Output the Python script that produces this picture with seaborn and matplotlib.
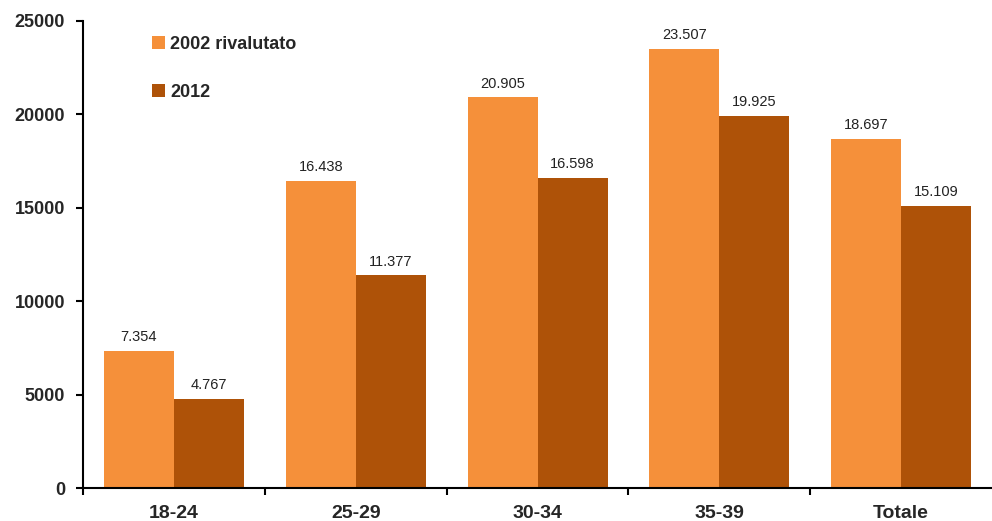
import numpy as np
import pandas as pd
from matplotlib import pyplot as plt
import seaborn as sns

categories = ['18-24', '25-29', '30-34', '35-39', 'Totale']
series_names = ['2002 rivalutato', '2012']
values_2002 = [7354, 16438, 20905, 23507, 18697]
values_2012 = [4767, 11377, 16598, 19925, 15109]
yticks = [0, 5000, 10000, 15000, 20000, 25000]

sns.set_style('white')
plt.rcParams['font.family'] = ['Liberation Sans', 'DejaVu Sans']

df = pd.DataFrame({
    'cat': categories * 2,
    'serie': [series_names[0]] * 5 + [series_names[1]] * 5,
    'val': values_2002 + values_2012,
})

fig = plt.figure(figsize=(9.92, 5.21), dpi=100)
ax = fig.add_axes([0.0837, 0.0633, 0.9163, 0.8964])
palette = {series_names[0]: '#F5903A', series_names[1]: '#AE5208'}
sns.barplot(data=df, x='cat', y='val', hue='serie', palette=palette,
            width=0.77, saturation=1, ax=ax, errorbar=None, linewidth=0)

for cont in ax.containers:
    labels = ['{:,}'.format(int(v)).replace(',', '.') for v in cont.datavalues]
    ax.bar_label(cont, labels=labels, padding=5, fontsize=10.5, color='#222222')

ax.set_ylim(0, 25000)
ax.set_xlim(-0.5, 4.5)
ax.set_yticks(yticks)
ax.set_yticklabels([str(t) for t in yticks], fontsize=13, fontweight='bold')
ax.set_xticks(range(len(categories)))
ax.set_xticklabels(categories, fontsize=14, fontweight='bold')
ax.set_xticks(np.arange(-0.5, 4.5, 1), minor=True)
ax.tick_params(axis='x', which='major', bottom=False, length=0, pad=12)
ax.tick_params(axis='x', which='minor', bottom=True, length=5, width=1.5,
               color='black', direction='out')
ax.tick_params(axis='y', left=True, length=5, width=1.5, color='black',
               direction='out', pad=8)
ax.set_xlabel('')
ax.set_ylabel('')
for s in ['top', 'right']:
    ax.spines[s].set_visible(False)
for s in ['left', 'bottom']:
    ax.spines[s].set_color('black')
    ax.spines[s].set_linewidth(1.5)

ax.legend(loc='upper left', bbox_to_anchor=(0.058, 1.003), frameon=False,
          prop={'weight': 'bold', 'size': 13}, handlelength=0.7, handleheight=0.7,
          handletextpad=0.3, labelspacing=1.7)

fig.savefig('out.png', dpi=100)
